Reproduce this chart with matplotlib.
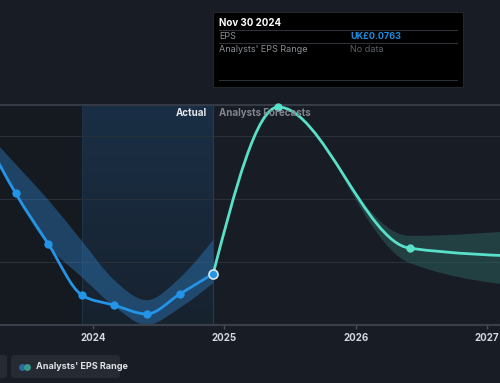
import numpy as np
import matplotlib
matplotlib.use("Agg")
import matplotlib.pyplot as plt
from matplotlib.path import Path
from matplotlib.patches import PathPatch, Rectangle, FancyBboxPatch
from matplotlib.colors import LinearSegmentedColormap

plt.rcParams['font.family'] = ['Inter', 'DejaVu Sans']

# quarter ends as decimal years
actual_dates = [2023.16, 2023.41, 2023.66, 2023.915, 2024.16, 2024.41, 2024.66, 2024.915]
actual_eps = [0.1210, 0.1019, 0.0857, 0.0695, 0.0663, 0.0635, 0.0698, 0.0763]
actual_hi = [0.1225, 0.1111, 0.0997, 0.0867, 0.0743, 0.0679, 0.0749, 0.0870]
actual_lo = [0.1200, 0.1010, 0.0851, 0.0752, 0.0660, 0.0600, 0.0654, 0.0733]

fc_dates = [2024.915, 2025.41, 2026.41, 2027.41]
fc_eps = [0.0763, 0.1292, 0.0844, 0.0816]
rng_dates = [2025.85, 2026.41, 2027.41]
rng_hi = [0.1110, 0.0883, 0.0905]
rng_lo = [0.1110, 0.0797, 0.0717]

years = [2024, 2025, 2026, 2027]
today = 2024.915
year_ago = 2023.915


def mono_verts(xs, ys):
    # monotone cubic (like d3 curveMonotoneX) as bezier vertices
    xs = np.asarray(xs, float)
    ys = np.asarray(ys, float)
    n = len(xs)
    h = np.diff(xs)
    s = np.diff(ys) / h
    t = np.zeros(n)
    for i in range(1, n - 1):
        p = (s[i - 1] * h[i] + s[i] * h[i - 1]) / (h[i - 1] + h[i])
        t[i] = (np.sign(s[i - 1]) + np.sign(s[i])) * min(abs(s[i - 1]), abs(s[i]), 0.5 * abs(p))
    t[0] = (3 * s[0] - t[1]) / 2
    t[-1] = (3 * s[-1] - t[-2]) / 2
    verts = [(xs[0], ys[0])]
    for i in range(n - 1):
        d = h[i] / 3
        verts += [(xs[i] + d, ys[i] + d * t[i]), (xs[i + 1] - d, ys[i + 1] - d * t[i + 1]), (xs[i + 1], ys[i + 1])]
    return verts


def line_path(xs, ys):
    v = mono_verts(xs, ys)
    codes = [Path.MOVETO] + [Path.CURVE4] * (len(v) - 1)
    return Path(v, codes)


def band_path(xs, hi, lo):
    up = mono_verts(xs, hi)
    dn = mono_verts(xs, lo)[::-1]
    v = up + dn + [up[0]]
    codes = [Path.MOVETO] + [Path.CURVE4] * (len(up) - 1) + [Path.LINETO] + [Path.CURVE4] * (len(dn) - 1) + [Path.CLOSEPOLY]
    return Path(v, codes)


W, H = 500, 383
fig = plt.figure(figsize=(W / 100, H / 100), dpi=100)
fig.patch.set_facecolor('#181c25')

# axes spans x 0..500 px, y 105..325 px
ax = fig.add_axes([0, (H - 325) / H, 1, 220 / H])
ax.set_facecolor('#151920')
x0 = 2024 - 93 / 131.33
x1 = 2024 + 407 / 131.33
ax.set_xlim(x0, x1)
ax.set_ylim(0.06, 0.06 + 220 / 3150)

# shaded past year + right side background
grad = LinearSegmentedColormap.from_list('g', ['#1a2f45', '#17222f'])
ax.imshow(np.linspace(0, 1, 100).reshape(-1, 1), cmap=grad, aspect='auto',
          extent=[year_ago, today, 0.06, 0.06 + 220 / 3150], zorder=0)
ax.axvspan(today, x1, color='#181c25', zorder=0, lw=0)

for g in [0.08, 0.10, 0.12]:
    ax.axhline(g, color='#2a303a', lw=0.8, zorder=1)
ax.axhline(0.06 + 220 / 3150, color='#353a44', lw=1.5, zorder=1, clip_on=False)
ax.axvline(year_ago, color='#1f3346', lw=0.8, zorder=1)
ax.axvline(today, color='#2c3b4c', lw=0.8, zorder=1)

# bands
ax.add_patch(PathPatch(band_path(actual_dates, actual_hi, actual_lo), fc='#2f7fc4', ec='none', alpha=0.42, zorder=2))
ax.add_patch(PathPatch(band_path(rng_dates, rng_hi, rng_lo), fc='#2f6a66', ec='none', alpha=0.45, zorder=2))

# lines
ax.add_patch(PathPatch(line_path(actual_dates, actual_eps), fc='none', ec='#2394e6', lw=2, zorder=3, capstyle='round'))
ax.add_patch(PathPatch(line_path(fc_dates, fc_eps), fc='none', ec='#58e0c9', lw=2, zorder=3, capstyle='round'))

ax.plot(actual_dates[:-1], actual_eps[:-1], 'o', color='#2394e6', ms=5, zorder=4)
ax.plot(actual_dates[-1], actual_eps[-1], 'o', color='#2394e6', mec='#dde6f0', mew=1.2, ms=6.5, zorder=5)
ax.plot(fc_dates[1:3], fc_eps[1:3], 'o', color='#58e0c9', ms=5, zorder=4, clip_on=False)

# x axis
for sp in ['top', 'left', 'right']:
    ax.spines[sp].set_visible(False)
ax.spines['bottom'].set_color('#3a404a')
ax.spines['bottom'].set_linewidth(1.5)
ax.set_yticks([])
ax.set_xticks(years)
ax.set_xticklabels([str(y) for y in years])
ax.tick_params(axis='x', colors='#4a505a', length=3, width=1, labelcolor='#d4d7dc', labelsize=7, pad=3)
for lab in ax.get_xticklabels():
    lab.set_fontweight('bold')

# labels
fig.text(207 / W, 1 - 113 / H, 'Actual', ha='right', va='center', color='#e6e8eb', fontsize=7, fontweight='bold')
fig.text(219 / W, 1 - 113 / H, 'Analysts Forecasts', ha='left', va='center', color='#80868f', fontsize=7, fontweight='bold')

# tooltip
fig.add_artist(Rectangle((213 / W, 1 - 87 / H), 250 / W, 75 / H, transform=fig.transFigure, fc='#000000', ec='#22262d', lw=0.8))
fig.text(219 / W, 1 - 23 / H, 'Nov 30 2024', color='white', fontsize=7, fontweight='bold', va='center')
for yy in [30, 43, 80]:
    fig.add_artist(plt.Line2D([219 / W, 457 / W], [1 - yy / H, 1 - yy / H], transform=fig.transFigure, color='#2e3238', lw=0.8))
fig.text(219 / W, 1 - 36.5 / H, 'EPS', color='#8b9096', fontsize=6.5, va='center')
fig.text(350 / W, 1 - 36.5 / H, 'UK£0.0763', color='#1f8de0', fontsize=6.5, fontweight='bold', va='center')
fig.text(219 / W, 1 - 49.5 / H, "Analysts' EPS Range", color='#8b9096', fontsize=6.5, va='center')
fig.text(350 / W, 1 - 49.5 / H, 'No data', color='#5c6066', fontsize=6.5, va='center')

# legend
fig.add_artist(FancyBboxPatch((-20 / W, 1 - 378 / H), 27 / W, 23 / H, boxstyle='round,pad=0,rounding_size=0.008',
                              transform=fig.transFigure, fc='#252a33', ec='none'))
fig.add_artist(FancyBboxPatch((11 / W, 1 - 378 / H), 109 / W, 23 / H, boxstyle='round,pad=0,rounding_size=0.008',
                              transform=fig.transFigure, fc='#252a33', ec='none'))
fig.add_artist(plt.Line2D([22 / W], [1 - 366.5 / H], transform=fig.transFigure, marker='o', ms=5, color='#2b6c9c', mec='none'))
fig.add_artist(plt.Line2D([27 / W], [1 - 366.5 / H], transform=fig.transFigure, marker='o', ms=5, color='#3a9a8c', mec='none'))
fig.text(36 / W, 1 - 366.5 / H, "Analysts' EPS Range", color='#e0e2e6', fontsize=6.5, fontweight='bold', va='center')

fig.savefig('out.png', dpi=100, facecolor=fig.get_facecolor())
